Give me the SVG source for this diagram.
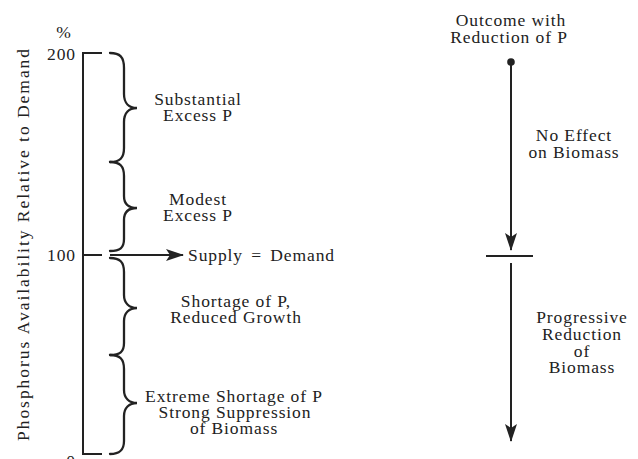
<svg xmlns="http://www.w3.org/2000/svg" width="638" height="459" viewBox="0 0 638 459">
<defs>
<style>
text{font-family:"Liberation Serif","DejaVu Serif",serif;font-size:17.5px;letter-spacing:0.9px;fill:#222;}
.c{text-anchor:middle;}
.r{text-anchor:end;}
.ln{stroke:#222;stroke-width:2;fill:none;}
.br{stroke:#222;stroke-width:2.3;fill:none;stroke-linecap:round;}
</style>
<marker id="ah" viewBox="0 0 18 12" refX="17" refY="6" markerWidth="18" markerHeight="12" markerUnits="userSpaceOnUse" orient="auto">
<path d="M0,0 L18,6 L0,12 L4,6 Z" fill="#222"/>
</marker>
</defs>
<rect width="638" height="459" fill="#fff"/>
<g id="axis">
<path class="ln" d="M102,53 H83 V454 H102 M83,255 H102"/>
<text x="64" y="38" class="c">%</text>
<text x="76" y="60" class="r">200</text>
<text x="76" y="261" class="r">100</text>
<text x="76" y="467" class="r">0</text>
<text transform="translate(29,441) rotate(-90)" font-size="18" textLength="393" lengthAdjust="spacing">Phosphorus Availability Relative to Demand</text>
</g>
<g id="brace-substantial">
<path class="br" d="M110,53 C120,53 124,57 124,68 L124,94 C124,103 129,108 137,108 C129,108 124,113 124,122 L124,148 C124,158 120,162 110,162"/>
<text x="198" y="105" class="c">Substantial</text>
<text x="198" y="121" class="c">Excess P</text>
</g>
<g id="brace-modest">
<path class="br" d="M110,162 C120,162 124,166 124,176 L124,196 C124,204 129,208 137,208 C129,208 124,212 124,220 L124,239 C124,248 120,251 110,251"/>
<text x="198" y="205" class="c">Modest</text>
<text x="198" y="221" class="c">Excess P</text>
</g>
<g id="brace-shortage">
<path class="br" d="M110,258 C120,258 124,262 124,272 L124,295 C124,303 129,308 137,308 C129,308 124,313 124,321 L124,343 C124,352 120,355 110,355"/>
<text x="236" y="307" class="c">Shortage of P,</text>
<text x="236" y="323" class="c">Reduced Growth</text>
</g>
<g id="brace-extreme">
<path class="br" d="M110,355 C120,355 124,359 124,369 L124,390 C124,398 129,403 137,403 C129,403 124,408 124,416 L124,441 C124,450 120,454 110,454"/>
<text x="234" y="402" class="c">Extreme Shortage of P</text>
<text x="235" y="418" class="c">Strong Suppression</text>
<text x="234" y="434" class="c">of Biomass</text>
</g>
<g id="supply-demand">
<text x="188" y="261" style="word-spacing:3px">Supply = Demand</text>
</g>
<g id="outcome">
<text x="511" y="26" class="c">Outcome with</text>
<text x="509" y="43" class="c">Reduction of P</text>
<circle cx="511" cy="62" r="3.8" fill="#222"/>
</g>
<g id="threshold">
<path class="ln" d="M486,256 H533"/>
</g>
<g id="no-effect">
<text x="574" y="141" class="c">No Effect</text>
<text x="574" y="158" class="c">on Biomass</text>
</g>
<g id="progressive">
<text x="582" y="323" class="c">Progressive</text>
<text x="582" y="340" class="c">Reduction</text>
<text x="582" y="357" class="c">of</text>
<text x="582" y="373" class="c">Biomass</text>
</g>
<g id="connectors">
<path class="ln" d="M110,255 H183" marker-end="url(#ah)"/>
<path class="ln" d="M511,62 V250" marker-end="url(#ah)"/>
<path class="ln" d="M511,263 V441" marker-end="url(#ah)"/>
</g>
</svg>
